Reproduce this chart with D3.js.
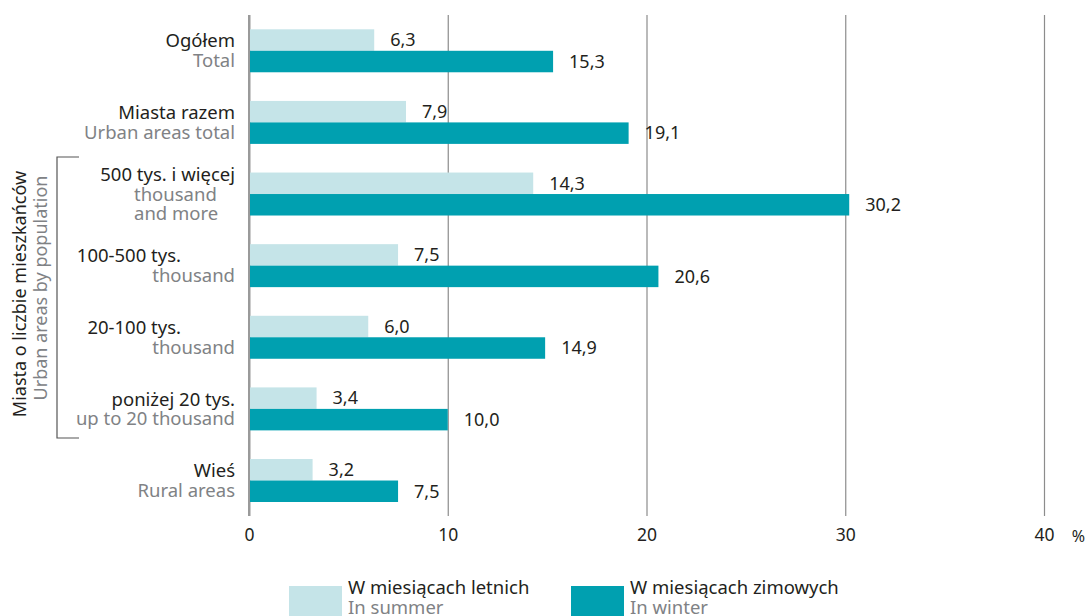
<!DOCTYPE html>
<html>
  <head>
    <meta charset="utf-8" />
    <title>bars</title>
    <script src="https://cdn.jsdelivr.net/npm/d3@7"></script>
    <style type="text/css">
      body { margin: 0; background: #fff; }
      svg { display: block; font-family: 'Noto Sans', sans-serif; }
      .pl { fill: #231f20; }
      .en { fill: #808285; }
    </style>
  </head>
  <body>
    <svg id="chart" width="1087" height="616"></svg>
    <script type="text/javascript">
      // dane
      var categories = ['Ogółem', 'Miasta razem', '500 tys. i więcej', '100-500 tys.', '20-100 tys.', 'poniżej 20 tys.', 'Wieś'];
      var categoriesEn = [['Total'], ['Urban areas total'], ['thousand', 'and more'], ['thousand'], ['thousand'], ['up to 20 thousand'], ['Rural areas']];
      var summer = [6.3, 7.9, 14.3, 7.5, 6.0, 3.4, 3.2];
      var winter = [15.3, 19.1, 30.2, 20.6, 14.9, 10.0, 7.5];
      var series = ['W miesiącach letnich', 'W miesiącach zimowych'];
      var seriesEn = ['In summer', 'In winter'];
      var xTicks = [0, 10, 20, 30, 40];

      var colors = ['#c5e4e8', '#00a0b0'];
      var svg = d3.select('#chart');

      var x = d3.scaleLinear().domain([0, 40]).range([249, 1044]);
      var y = d3.scaleBand().domain(categories).range([29.3, 502]).paddingInner(0.4).paddingOuter(0);
      var ySub = d3.scaleBand().domain([0, 1]).range([0, y.bandwidth()]);

      var pl = d3.formatLocale({ decimal: ',', thousands: ' ', grouping: [3], currency: ['', ' zł'] });
      var fmt = pl.format('.1f');

      // siatka
      var grid = svg.append('g')
        .attr('transform', 'translate(0,516)')
        .call(d3.axisBottom(x).tickValues(xTicks).tickSize(-501).tickFormat(''));
      grid.select('.domain').remove();
      grid.selectAll('.tick line')
        .attr('stroke', (d) => (d === 0 ? '#9a9a9a' : '#8c8c8c'))
        .attr('stroke-width', (d) => (d === 0 ? 2 : 1.2));

      var lab = svg.append('g')
        .attr('transform', 'translate(0,516)')
        .call(d3.axisBottom(x).tickValues(xTicks).tickSize(0).tickPadding(13));
      lab.select('.domain').remove();
      lab.selectAll('text').attr('font-size', 17.5).attr('fill', '#231f20').attr('font-family', 'Noto Sans');
      svg.append('text').attr('x', 1085).attr('y', 542).attr('text-anchor', 'end')
        .attr('font-size', 16).attr('fill', '#231f20').text('%');

      // słupki
      var rows = categories.map((c, i) => ({ cat: c, vals: [summer[i], winter[i]] }));
      var grp = svg.append('g').selectAll('g').data(rows).enter().append('g')
        .attr('transform', (d) => 'translate(0,' + y(d.cat) + ')');

      grp.selectAll('rect').data((d) => d.vals).enter().append('rect')
        .attr('x', x(0))
        .attr('y', (d, j) => ySub(j))
        .attr('width', (d) => x(d) - x(0))
        .attr('height', ySub.bandwidth())
        .attr('fill', (d, j) => colors[j]);

      grp.selectAll('text.val').data((d) => d.vals).enter().append('text')
        .attr('class', 'val pl')
        .attr('x', (d) => x(d) + 16)
        .attr('y', (d, j) => ySub(j) + ySub.bandwidth() / 2)
        .attr('dy', '0.35em')
        .attr('font-size', 18)
        .text((d) => fmt(d));

      // oś zero na wierzchu
      svg.append('line').attr('x1', x(0)).attr('x2', x(0)).attr('y1', 15).attr('y2', 516)
        .attr('stroke', '#9a9a9a').attr('stroke-width', 2);

      // etykiety kategorii
      var lh = 19.7;
      var labels = svg.append('g').attr('font-size', 18.5);
      categories.forEach(function (c, i) {
        var lines = [{ t: c, cls: 'pl' }].concat(categoriesEn[i].map((t) => ({ t: t, cls: 'en' })));
        var cy = y(c) + y.bandwidth() / 2;
        var top = cy - ((lines.length - 1) * lh) / 2;
        lines.forEach(function (l, k) {
          var xx = 235, anchor = 'end';
          if (i === 2 && k > 0) { xx = 134; anchor = 'start'; }
          if ((i === 3 || i === 4) && k === 0) { xx = 181; }
          labels.append('text')
            .attr('class', l.cls)
            .attr('x', xx)
            .attr('y', top + k * lh)
            .attr('dy', '0.35em')
            .attr('text-anchor', anchor)
            .text(l.t);
        });
      });

      // nawias grupy miast
      svg.append('path')
        .attr('d', 'M79,157H57V438H79')
        .attr('fill', 'none').attr('stroke', '#555').attr('stroke-width', 1.2);
      svg.append('text').attr('class', 'pl').attr('font-size', 18)
        .attr('transform', 'translate(26,294) rotate(-90)').attr('text-anchor', 'middle')
        .text('Miasta o liczbie mieszkańców');
      svg.append('text').attr('class', 'en').attr('font-size', 18)
        .attr('transform', 'translate(47,288) rotate(-90)').attr('text-anchor', 'middle')
        .text('Urban areas by population');

      // legenda
      var legX = [289, 571];
      var leg = svg.append('g').selectAll('g').data(series).enter().append('g')
        .attr('transform', (d, i) => 'translate(' + legX[i] + ',586)');
      leg.append('rect').attr('width', 53).attr('height', 32).attr('fill', (d, i) => colors[i]);
      leg.append('text').attr('class', 'pl').attr('x', 59).attr('y', 8).attr('font-size', 18.5).text((d) => d);
      leg.append('text').attr('class', 'en').attr('x', 59).attr('y', 28).attr('font-size', 18.5).text((d, i) => seriesEn[i]);
    </script>
  </body>
</html>
